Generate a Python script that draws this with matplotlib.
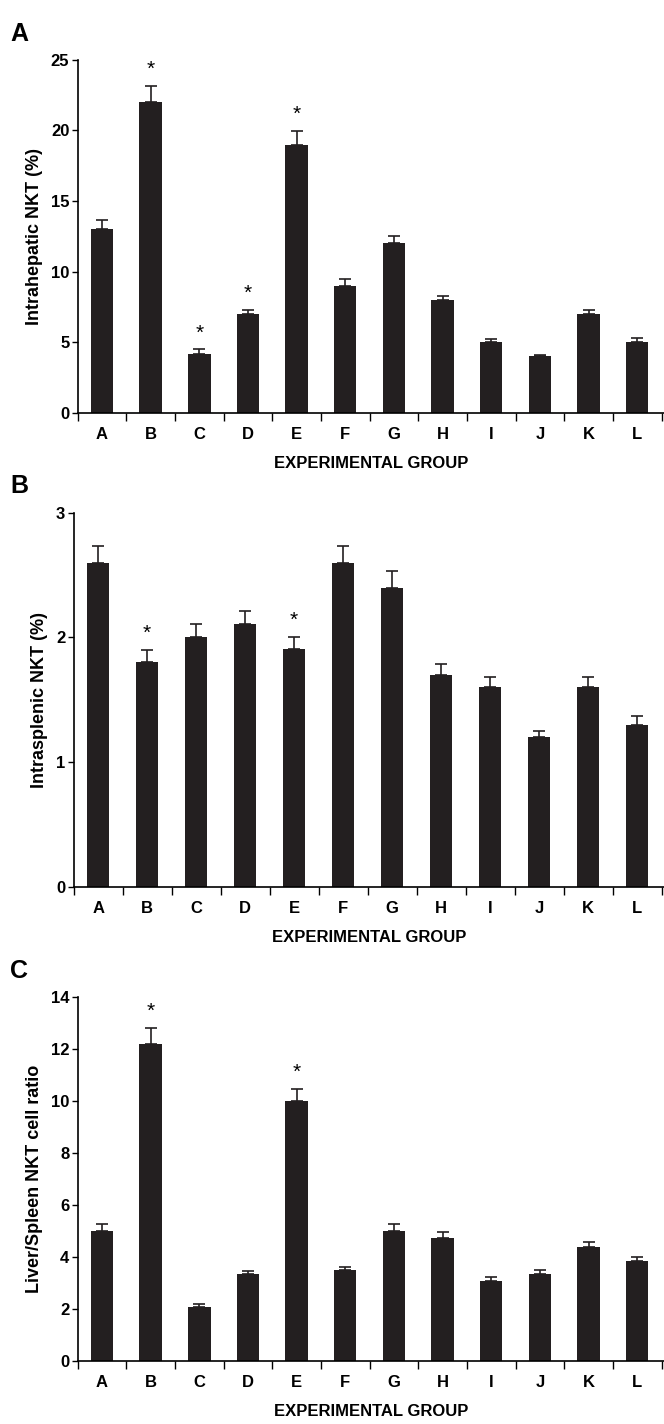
import numpy as np
import matplotlib.pyplot as plt

plt.rcParams['font.family'] = ['Liberation Sans', 'DejaVu Sans']
plt.rcParams['font.weight'] = 'bold'

groups = ["A", "B", "C", "D", "E", "F", "G", "H", "I", "J", "K", "L"]

hep = [13, 22, 4.2, 7, 19, 9, 12, 8, 5, 4, 7, 5]
hep_err = [0.65, 1.15, 0.3, 0.3, 0.95, 0.45, 0.55, 0.3, 0.25, 0.12, 0.3, 0.28]
hep_sig = [False, True, True, True, True, False, False, False, False, False, False, False]

spl = [2.6, 1.8, 2.0, 2.11, 1.91, 2.6, 2.4, 1.7, 1.6, 1.2, 1.6, 1.3]
spl_err = [0.13, 0.1, 0.11, 0.1, 0.09, 0.13, 0.13, 0.09, 0.08, 0.05, 0.08, 0.07]
spl_sig = [False, True, False, False, True, False, False, False, False, False, False, False]

ratio = [5.0, 12.2, 2.1, 3.35, 10.0, 3.5, 5.0, 4.75, 3.1, 3.35, 4.4, 3.85]
ratio_err = [0.28, 0.6, 0.1, 0.12, 0.45, 0.12, 0.28, 0.2, 0.15, 0.17, 0.17, 0.17]
ratio_sig = [False, True, False, False, True, False, False, False, False, False, False, False]

fig = plt.figure(figsize=(6.64, 14.24), dpi=100)

panels = [
    ("A", [0.117, 0.710, 0.883, 0.248], hep, hep_err, hep_sig, 25, 5, "Intrahepatic NKT (%)"),
    ("B", [0.111, 0.377, 0.889, 0.263], spl, spl_err, spl_sig, 3, 1, "Intrasplenic NKT (%)"),
    ("C", [0.117, 0.044, 0.883, 0.256], ratio, ratio_err, ratio_sig, 14, 2, "Liver/Spleen NKT cell ratio"),
]

x = np.arange(len(groups))
for letter, rect, vals, errs, sig, ymax, step, ylab in panels:
    ax = fig.add_axes(rect)
    ax.bar(x, vals, width=0.46, color="#231f20", yerr=[np.zeros(len(vals)), errs],
           error_kw=dict(ecolor="#231f20", elinewidth=1.2, capsize=4, capthick=1.2))
    for i in range(len(vals)):
        if sig[i]:
            ax.text(x[i], vals[i] + errs[i] + ymax * 0.02, "*", ha="center", va="bottom",
                    fontsize=15, fontweight="normal")
    ax.set_xlim(-0.5, 11.55)
    ax.set_ylim(0, ymax)
    ticks = np.arange(0, ymax + 0.01, step)
    ax.set_yticks(ticks)
    ax.set_yticklabels([str(int(v)) for v in ticks], fontsize=12)
    ax.set_xticks(x)
    ax.set_xticklabels(groups, fontsize=12)
    ax.tick_params(axis="x", length=0, pad=10)
    ax.set_xticks(np.arange(-0.5, 11.6, 1), minor=True)
    ax.tick_params(axis="x", which="minor", length=6, direction="out", width=1)
    ax.tick_params(axis="y", length=4, width=1, pad=2)
    ax.spines["top"].set_visible(False)
    ax.spines["right"].set_visible(False)
    ax.spines["left"].set_linewidth(1.2)
    ax.spines["bottom"].set_linewidth(1.2)
    ax.set_ylabel(ylab, fontsize=13, fontweight="bold", labelpad=6)
    ax.set_xlabel("EXPERIMENTAL GROUP", fontsize=12, fontweight="bold", labelpad=10)
    fig.text(0.015, rect[1] + rect[3] + 0.01, letter, fontsize=18, fontweight="bold",
             ha="left", va="bottom")

fig.savefig("out.png", dpi=100)
